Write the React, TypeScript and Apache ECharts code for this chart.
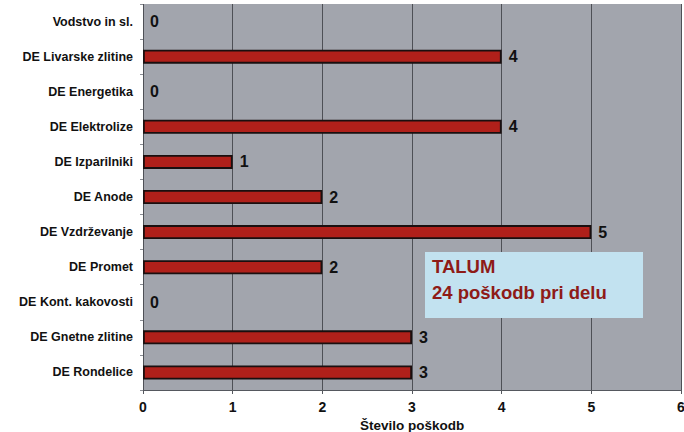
import React, { useEffect, useRef } from "react";
import * as echarts from "echarts";

const categories = [
  "Vodstvo in sl.",
  "DE Livarske zlitine",
  "DE Energetika",
  "DE Elektrolize",
  "DE Izparilniki",
  "DE Anode",
  "DE Vzdrževanje",
  "DE Promet",
  "DE Kont. kakovosti",
  "DE Gnetne zlitine",
  "DE Rondelice",
];
const values = [0, 4, 0, 4, 1, 2, 5, 2, 0, 3, 3];
const xTicks = [0, 1, 2, 3, 4, 5, 6];
const boxLines = ["TALUM", "24 poškodb pri delu"];

export default function App() {
  const ref = useRef<HTMLDivElement>(null);
  useEffect(() => {
    document.body.style.margin = "0";
    const chart = echarts.init(ref.current!, null, { renderer: "svg" });
    const font = "Liberation Sans, Arial, sans-serif";
    chart.setOption({
      animation: false,
      backgroundColor: "#ffffff",
      textStyle: { fontFamily: font },
      grid: {
        left: 143,
        right: 3,
        top: 4,
        bottom: 42,
        containLabel: false,
        outerBoundsMode: "none",
        show: true,
        backgroundColor: "#a2a5ad",
        borderWidth: 0,
      },
      xAxis: {
        type: "value",
        min: 0,
        max: 6,
        interval: 1,
        name: "Število poškodb",
        nameLocation: "middle",
        nameGap: 25,
        nameTextStyle: { fontSize: 13.5, fontWeight: "bold", color: "#111" },
        axisLine: { show: true, lineStyle: { color: "#55585e", width: 1 } },
        axisTick: { show: true, length: 4, lineStyle: { color: "#55585e" } },
        axisLabel: {
          fontSize: 14,
          fontWeight: "bold",
          color: "#111",
          margin: 10,
          formatter: (v: number) => (xTicks.includes(v) ? String(v) : ""),
        },
        splitLine: { show: true, lineStyle: { color: "#4e5056", width: 1 } },
      },
      yAxis: {
        type: "category",
        data: categories,
        inverse: true,
        axisLine: { show: false },
        axisTick: { show: true, length: 3, lineStyle: { color: "#8a8d94" } },
        axisLabel: {
          fontSize: 12.5,
          fontWeight: "bold",
          color: "#111",
          margin: 10,
        },
        splitLine: { show: false },
      },
      series: [
        {
          type: "bar",
          data: values.map((v) =>
            v === 0 ? { value: v, itemStyle: { borderWidth: 0, opacity: 0 } } : v
          ),
          barWidth: 14,
          itemStyle: {
            color: "#b0201a",
            borderColor: "#1a0f0f",
            borderWidth: 1.8,
          },
          label: {
            show: true,
            position: "right",
            distance: 7,
            fontSize: 16,
            fontWeight: "bold",
            color: "#111",
            opacity: 1,
          },
        },
      ],
      graphic: [
        {
          type: "rect",
          shape: { x: 425, y: 252, width: 218, height: 66 },
          style: { fill: "#c2e2f0" },
          z: 100,
        },
        {
          type: "text",
          x: 432,
          y: 257,
          style: {
            text: boxLines[0],
            fontSize: 18.5,
            fontWeight: "bold",
            fill: "#8e1b17",
            fontFamily: font,
          },
          z: 101,
        },
        {
          type: "text",
          x: 432,
          y: 283,
          style: {
            text: boxLines[1],
            fontSize: 18.5,
            fontWeight: "bold",
            fill: "#8e1b17",
            fontFamily: font,
          },
          z: 101,
        },
      ],
    });
    return () => chart.dispose();
  }, []);
  return (
    <div
      ref={ref}
      style={{ position: "absolute", left: 0, top: 0, width: 684, height: 432 }}
    />
  );
}
